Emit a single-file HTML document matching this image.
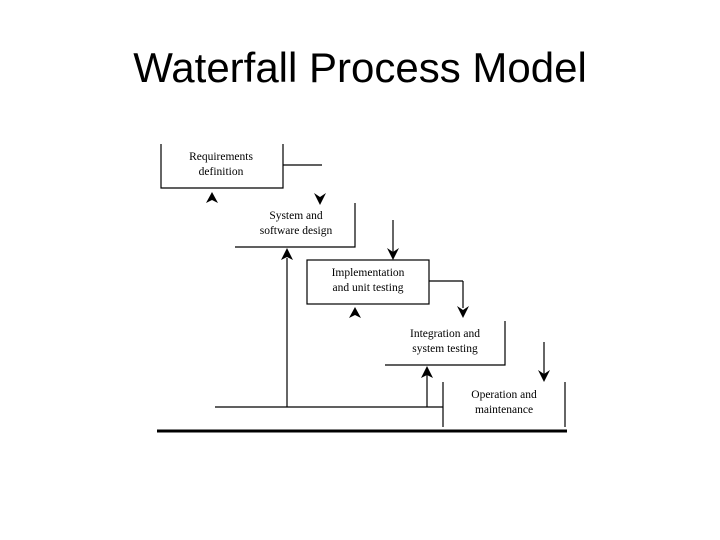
<!DOCTYPE html>
<html><head><style>
body{margin:0;width:720px;height:540px;background:#fff;overflow:hidden;font-family:"Liberation Sans",sans-serif}
.t{position:absolute;left:0;width:720px;text-align:center;top:44px;font-size:42px;color:#000}
</style></head><body>
<div class="t">Waterfall Process Model</div>
<svg width="720" height="540" style="position:absolute;left:0;top:0" font-family="Liberation Serif" font-size="11.5" text-anchor="middle">
<g stroke="#000" stroke-width="1.2" fill="none">
<polyline points="161,144 161,188 283,188 283,144"/>
<line x1="283" y1="165" x2="322" y2="165"/>
<polyline points="355,203 355,247 235,247"/>
<line x1="393" y1="220" x2="393" y2="252"/>
<rect x="307" y="260" width="122" height="44"/>
<line x1="429" y1="281" x2="463" y2="281"/>
<line x1="463" y1="281" x2="463" y2="308"/>
<line x1="287" y1="407" x2="287" y2="258"/>
<polyline points="505,321 505,365 385,365"/>
<line x1="427" y1="407" x2="427" y2="375"/>
<line x1="544" y1="342" x2="544" y2="375"/>
<line x1="443" y1="382" x2="443" y2="427"/>
<line x1="565" y1="382" x2="565" y2="427"/>
<line x1="215" y1="407" x2="443" y2="407"/>
</g>
<line x1="157" y1="431" x2="567" y2="431" stroke="#000" stroke-width="3"/>
<g fill="#000">
<polygon points="212,192 206,203 212,200 218,203"/>
<polygon points="320,205 314,193 320,197 326,193"/>
<polygon points="393,260 387,248 393,252 399,248"/>
<polygon points="287,248 281,260 287,257 293,260"/>
<polygon points="355,307 349,318 355,315 361,318"/>
<polygon points="463,318 457,306 463,310 469,306"/>
<polygon points="427,366 421,378 427,375 433,378"/>
<polygon points="544,382 538,370 544,374 550,370"/>
</g>
<g fill="#000">
<text x="221" y="160">Requirements</text><text x="221" y="175">definition</text>
<text x="296" y="219">System and</text><text x="296" y="234">software design</text>
<text x="368" y="276">Implementation</text><text x="368" y="291">and unit testing</text>
<text x="445" y="337">Integration and</text><text x="445" y="352">system testing</text>
<text x="504" y="398">Operation and</text><text x="504" y="413">maintenance</text>
</g>
</svg>
</body></html>
